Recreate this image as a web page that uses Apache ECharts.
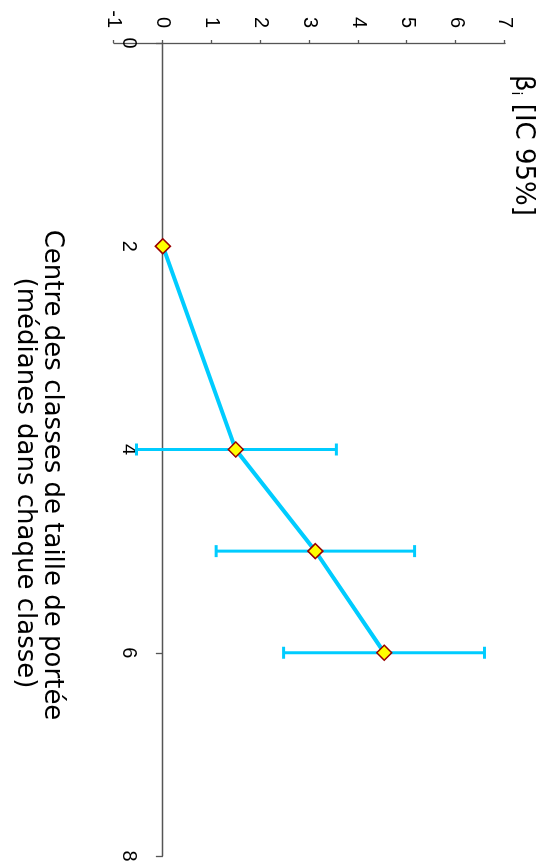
<!DOCTYPE html>
<html>
<head>
<meta charset="utf-8">
<script src="https://cdn.jsdelivr.net/npm/echarts@6/dist/echarts.min.js"></script>
<style>
  html, body { margin: 0; padding: 0; background: #fff; overflow: hidden; }
  body { width: 548px; height: 868px; position: relative; }
  /* the chart is laid out landscape and turned a quarter turn clockwise */
  #chart {
    position: absolute; left: 0; top: 0;
    width: 868px; height: 548px;
    transform-origin: 0 0;
    transform: translate(548px, 0) rotate(90deg);
  }
</style>
</head>
<body>
<div id="chart"></div>
<script>
// Class-size centres (medians within each class)
const classCentres = [2, 4, 5, 6];
// Estimated coefficients beta_i and their 95% confidence limits
const betaValues = [0, 1.49, 3.12, 4.53];
const ciLower = [null, -0.54, 1.09, 2.47];
const ciUpper = [null, 3.55, 5.15, 6.58];

const lineData = classCentres.map((x, i) => [x, betaValues[i]]);
const errorData = classCentres
  .map((x, i) => [x, ciLower[i], ciUpper[i]])
  .filter(d => d[1] !== null);

const CYAN = '#00ccff';
const AXIS = '#555555';
const TITLE_FONT = 'DejaVu Sans';

const chart = echarts.init(document.getElementById('chart'), null, { renderer: 'canvas' });

chart.setOption({
  animation: false,
  backgroundColor: '#ffffff',
  grid: { left: 43, right: 12, top: 43, bottom: 114, containLabel: false },
  xAxis: {
    type: 'value',
    min: 0, max: 8, interval: 2,
    axisLine: { show: true, onZero: true, lineStyle: { color: AXIS, width: 1.3 } },
    axisTick: { show: true, inside: false, length: 7, lineStyle: { color: AXIS, width: 1.3 } },
    // labels sit just under the zero line rather than at the grid bottom
    axisLabel: { margin: -25, color: '#000', fontFamily: 'Liberation Sans', fontSize: 20 },
    splitLine: { show: false }
  },
  yAxis: {
    type: 'value',
    min: -1, max: 7, interval: 1,
    axisLine: { show: true, onZero: false, lineStyle: { color: AXIS, width: 1.3 } },
    axisTick: { show: true, inside: false, length: 3, lineStyle: { color: AXIS, width: 1.3 } },
    axisLabel: { margin: 15, color: '#000', fontFamily: 'Liberation Sans', fontSize: 20 },
    splitLine: { show: false }
  },
  graphic: [
    {
      type: 'text', left: 75, top: 12,
      style: {
        text: '{b|β}{s|i}{b| [IC 95%]}',
        rich: {
          b: { fontFamily: TITLE_FONT, fontSize: 26, fill: '#000' },
          s: { fontFamily: TITLE_FONT, fontSize: 14, fill: '#000', padding: [14, 0, 0, 0] }
        }
      }
    },
    {
      type: 'text', x: 475, y: 509,
      style: {
        text: 'Centre des classes de taille de portée',
        fontFamily: TITLE_FONT, fontSize: 26, fill: '#000',
        textAlign: 'center', textVerticalAlign: 'bottom'
      }
    },
    {
      type: 'text', x: 483, y: 536,
      style: {
        text: '(médianes dans chaque classe)',
        fontFamily: TITLE_FONT, fontSize: 26, fill: '#000',
        textAlign: 'center', textVerticalAlign: 'bottom'
      }
    }
  ],
  series: [
    {
      type: 'custom',
      z: 1,
      data: errorData,
      renderItem: function (params, api) {
        const x = api.value(0);
        const lo = api.coord([x, api.value(1)]);
        const hi = api.coord([x, api.value(2)]);
        const half = 6;
        const style = { stroke: CYAN, lineWidth: 3, fill: null };
        return {
          type: 'group',
          children: [
            { type: 'line', shape: { x1: lo[0], y1: lo[1], x2: hi[0], y2: hi[1] }, style },
            { type: 'line', shape: { x1: lo[0] - half, y1: lo[1], x2: lo[0] + half, y2: lo[1] }, style },
            { type: 'line', shape: { x1: hi[0] - half, y1: hi[1], x2: hi[0] + half, y2: hi[1] }, style }
          ]
        };
      }
    },
    {
      type: 'line',
      z: 3,
      data: lineData,
      symbol: 'diamond',
      symbolSize: 15,
      lineStyle: { color: CYAN, width: 4 },
      itemStyle: { color: '#ffff00', borderColor: '#990000', borderWidth: 1.5 }
    }
  ]
});
</script>
</body>
</html>
